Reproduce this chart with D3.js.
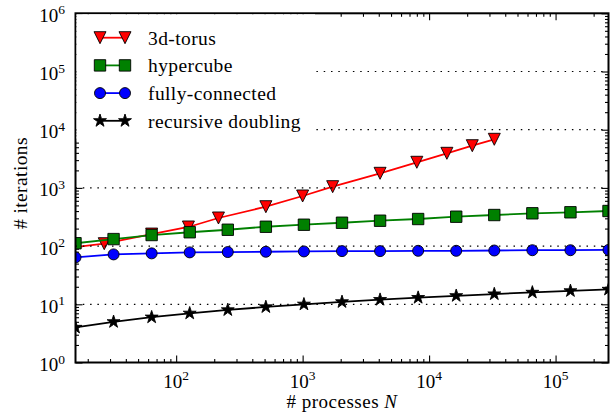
<!DOCTYPE html>
<html>
<head>
<meta charset="utf-8">
<script src="https://cdn.jsdelivr.net/npm/d3@7"></script>
<style>
  body { margin: 0; background: #fff; }
</style>
</head>
<body>
<div id="chart"></div>
<script>
  // process counts (powers of two) for the logarithmic topologies
  const procs = [16, 32, 64, 128, 256, 512, 1024, 2048, 4096, 8192, 16384, 32768, 65536, 131072, 262144];
  const hypercube = [112, 132, 155, 173, 191, 215, 233, 252, 273, 292, 320, 342, 366, 381, 401];
  const fullyConnected = [64, 72, 75, 78, 79, 80, 81, 82, 82, 83, 83, 84, 85, 85, 86];
  const recursiveDoubling = [4, 5, 6, 7, 8, 9, 10, 11, 12, 13, 14, 15, 16, 17, 18];

  // 3d-torus only at cube numbers
  const torusProcs = [8, 27, 64, 125, 216, 512, 1000, 1728, 4096, 8000, 13824, 21952, 32768];
  const torus = [80, 110, 161, 213, 304, 475, 726, 1050, 1782, 2754, 3930, 5310, 6840];

  const xMajor = [1e2, 1e3, 1e4, 1e5];
  const yMajor = [1e0, 1e1, 1e2, 1e3, 1e4, 1e5, 1e6];

  const width = 615, height = 419;
  const plotLeft = 75.5, plotRight = 608.5, plotTop = 13.3, plotBottom = 362.5;
  const serif = '"Liberation Serif"';

  const svg = d3.select('#chart')
    .append('svg')
    .attr('width', width)
    .attr('height', height)
    .style('font-family', serif);

  const x = d3.scaleLog().domain([16, 262144]).range([plotLeft, plotRight]);
  const y = d3.scaleLog().domain([1, 1e6]).range([plotBottom, plotTop]);

  svg.append('clipPath').attr('id', 'plot-clip')
    .append('rect')
    .attr('x', plotLeft).attr('y', plotTop)
    .attr('width', plotRight - plotLeft).attr('height', plotBottom - plotTop);

  // minor tick positions
  const xMinor = [];
  for (let d = 1; d <= 5; d++) {
    for (let k = 2; k <= 9; k++) {
      const v = k * Math.pow(10, d);
      if (v >= 16 && v <= 262144) xMinor.push(v);
    }
  }
  const yMinor = [];
  for (let d = 0; d <= 5; d++) {
    for (let k = 2; k <= 9; k++) yMinor.push(k * Math.pow(10, d));
  }

  // inward ticks on all four sides
  function ticks(axisFn, scale, values, size, transform) {
    const g = svg.append('g')
      .attr('transform', transform)
      .call(axisFn(scale).tickValues(values).tickSize(size).tickFormat(''));
    g.select('.domain').remove();
    g.selectAll('.tick line').attr('stroke', '#000').attr('stroke-width', 1.1);
  }
  ticks(d3.axisBottom, x, xMajor, -7, `translate(0,${plotBottom})`);
  ticks(d3.axisBottom, x, xMinor, -3.5, `translate(0,${plotBottom})`);
  ticks(d3.axisTop, x, xMajor, -7, `translate(0,${plotTop})`);
  ticks(d3.axisTop, x, xMinor, -3.5, `translate(0,${plotTop})`);
  ticks(d3.axisLeft, y, yMajor, -7, `translate(${plotLeft},0)`);
  ticks(d3.axisLeft, y, yMinor, -3.5, `translate(${plotLeft},0)`);
  ticks(d3.axisRight, y, yMajor, -7, `translate(${plotRight},0)`);
  ticks(d3.axisRight, y, yMinor, -3.5, `translate(${plotRight},0)`);

  // marker shapes
  function markerPath(type) {
    if (type === 'tri') return 'M-6,-6L6,-6L0,6Z';
    if (type === 'square') return 'M-5.7,-5.7H5.7V5.7H-5.7Z';
    if (type === 'circle') return d3.symbol(d3.symbolCircle, Math.PI * 5.5 * 5.5)();
    // five pointed star
    const pts = [];
    for (let i = 0; i < 10; i++) {
      const r = i % 2 === 0 ? 6.8 : 2.6;
      const a = -Math.PI / 2 + i * Math.PI / 5;
      pts.push([r * Math.cos(a), r * Math.sin(a)]);
    }
    return 'M' + pts.map(p => p[0].toFixed(2) + ',' + p[1].toFixed(2)).join('L') + 'Z';
  }

  const series = [
    { name: '3d-torus', xs: torusProcs, ys: torus, color: '#ff0000', marker: 'tri' },
    { name: 'hypercube', xs: procs, ys: hypercube, color: '#008000', marker: 'square' },
    { name: 'fully-connected', xs: procs, ys: fullyConnected, color: '#0000ff', marker: 'circle' },
    { name: 'recursive doubling', xs: procs, ys: recursiveDoubling, color: '#000000', marker: 'star' }
  ];

  const line = d3.line().x(d => x(d[0])).y(d => y(d[1]));
  const plot = svg.append('g').attr('clip-path', 'url(#plot-clip)');

  series.forEach(s => {
    const pts = s.xs.map((v, i) => [v, s.ys[i]]);
    const g = plot.append('g');
    g.append('path')
      .attr('d', line(pts))
      .attr('fill', 'none')
      .attr('stroke', s.color)
      .attr('stroke-width', 1.8);
    g.selectAll('.m')
      .data(pts)
      .enter()
      .append('path')
      .attr('d', markerPath(s.marker))
      .attr('transform', d => `translate(${x(d[0])},${y(d[1])})`)
      .attr('fill', s.color)
      .attr('stroke', '#000')
      .attr('stroke-width', 0.9);
  });

  // dotted grid at major y ticks
  svg.append('g')
    .selectAll('line')
    .data(yMajor.slice(1, -1))
    .enter()
    .append('line')
    .attr('x1', plotLeft).attr('x2', plotRight)
    .attr('y1', d => y(d)).attr('y2', d => y(d))
    .attr('stroke', '#000')
    .attr('stroke-width', 1.2)
    .attr('stroke-dasharray', '1.5 5.8');

  // frame
  svg.append('rect')
    .attr('x', plotLeft).attr('y', plotTop)
    .attr('width', plotRight - plotLeft).attr('height', plotBottom - plotTop)
    .attr('fill', 'none')
    .attr('stroke', '#000')
    .attr('stroke-width', 2);

  // tick labels with superscript exponents
  function powLabel(sel, exp) {
    sel.append('tspan').text('10');
    sel.append('tspan').attr('dy', -7.5).style('font-size', '13.5px').text(exp);
  }
  yMajor.forEach(v => {
    const t = svg.append('text')
      .attr('x', 65)
      .attr('y', y(v) + 8.5)
      .attr('text-anchor', 'end')
      .style('font-family', serif)
      .style('font-size', '19px');
    powLabel(t, Math.round(Math.log10(v)));
  });
  xMajor.forEach(v => {
    const t = svg.append('text')
      .attr('x', x(v))
      .attr('y', 387.5)
      .attr('text-anchor', 'middle')
      .style('font-family', serif)
      .style('font-size', '19px');
    powLabel(t, Math.round(Math.log10(v)));
  });

  // axis titles
  const xt = svg.append('text')
    .attr('x', (plotLeft + plotRight) / 2)
    .attr('y', 408)
    .attr('text-anchor', 'middle')
    .style('font-family', serif)
    .style('font-size', '19px')
    .style('letter-spacing', '0.5px');
  xt.append('tspan').text('# processes ');
  xt.append('tspan').style('font-style', 'italic').text('N');

  svg.append('text')
    .attr('transform', 'translate(26.5,183) rotate(-90)')
    .attr('text-anchor', 'middle')
    .style('font-family', serif)
    .style('font-size', '19.5px')
    .style('letter-spacing', '0.4px')
    .text('# iterations');

  // legend with white background
  const legend = svg.append('g');
  legend.append('rect')
    .attr('x', plotLeft + 1).attr('y', plotTop + 1)
    .attr('width', 314 - plotLeft).attr('height', 126)
    .attr('fill', '#fff');

  const items = legend.selectAll('.legend-item')
    .data(series)
    .enter()
    .append('g')
    .attr('class', 'legend-item')
    .attr('transform', (d, i) => `translate(0,${37.7 + i * 27.7})`);

  items.append('line')
    .attr('x1', 100).attr('x2', 125)
    .attr('stroke', d => d.color)
    .attr('stroke-width', 1.8);

  [100, 125].forEach(mx => {
    items.append('path')
      .attr('d', d => markerPath(d.marker))
      .attr('transform', `translate(${mx},0)`)
      .attr('fill', d => d.color)
      .attr('stroke', '#000')
      .attr('stroke-width', 0.9);
  });

  items.append('text')
    .attr('x', 148)
    .attr('y', 7)
    .style('font-family', serif)
    .style('font-size', '19.5px')
    .style('letter-spacing', '0.4px')
    .text(d => d.name);
</script>
</body>
</html>
